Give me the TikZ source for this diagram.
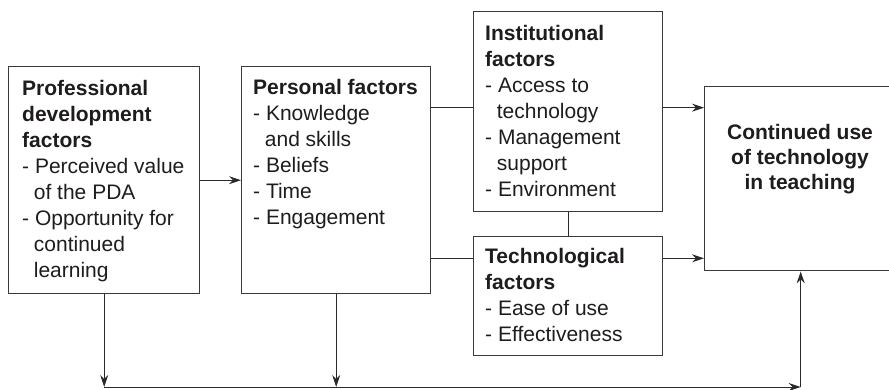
\documentclass[tikz,border=0pt]{standalone}
\usepackage{fontspec}
\setmainfont{Liberation Sans}
\usetikzlibrary{arrows.meta,calc}
\definecolor{linec}{HTML}{2A2A2A}
\definecolor{boxc}{HTML}{3A3A3A}
\definecolor{txtc}{HTML}{1E1C1D}
\begin{document}
\begin{tikzpicture}[x=1pt,y=-1pt,
  box/.style={draw=boxc, line width=1.4pt, inner sep=0pt, anchor=north west},
  txt/.style={anchor=north west, align=left, inner sep=0pt, text=txtc, font=\fontsize{21}{26}\selectfont},
  ln/.style={draw=linec, line width=1pt},
  arr/.style={draw=linec, line width=1pt, -{Stealth[length=12pt,width=8pt,inset=4pt]}}]
\useasboundingbox (0,0) rectangle (889,390);
\clip (0,0) rectangle (889,390);
% boxes
\node[box, minimum width=191pt, minimum height=227pt] (pd) at (8,66) {};
\node[box, minimum width=189pt, minimum height=227pt] (pers) at (241,66) {};
\node[box, minimum width=189pt, minimum height=200pt] (inst) at (473,11) {};
\node[box, minimum width=189pt, minimum height=119pt] (tech) at (473,236) {};
\node[box, minimum width=192pt, minimum height=184pt] (cont) at (704,86) {};
% texts
\node[txt] (pdt) at (22,80) {\textbf{Professional}\\\textbf{development}\\\textbf{factors}\\- Perceived value\\\hspace*{11.7pt}of the PDA\\- Opportunity for\\\hspace*{11.7pt}continued\\\hspace*{11.7pt}learning};
\node[txt] (perst) at (253,79) {\textbf{Personal factors}\\- Knowledge\\\hspace*{11.7pt}and skills\\- Beliefs\\- Time\\- Engagement};
\node[txt] (instt) at (485,25) {\textbf{Institutional}\\\textbf{factors}\\- Access to\\\hspace*{11.7pt}technology\\- Management\\\hspace*{11.7pt}support\\- Environment};
\node[txt] (techt) at (485,248) {\textbf{Technological}\\\textbf{factors}\\- Ease of use\\- Effectiveness};
\node[anchor=north, align=center, inner sep=0pt, text=txtc, font=\bfseries\fontsize{21}{25}\selectfont] (contt) at (800,124) {Continued use\\of technology\\in teaching};
% helper coordinates
\coordinate (i1) at ($(inst.north west)!0.48!(inst.south west)$);
\coordinate (t1) at ($(tech.north west)!0.185!(tech.south west)$);
\coordinate (yb) at (0,387);
\coordinate (bl) at (pd.south |- yb);
\coordinate (br) at (cont.south |- yb);
% connectors
\draw[arr] (pd.east) -- (pers.west);
\draw[ln] (pers.east |- i1) -- (i1);
\draw[ln] (pers.east |- t1) -- (t1);
\draw[ln] (inst.south) -- (tech.north);
\draw[arr] (inst.east |- i1) -- (cont.west |- i1);
\draw[arr] (tech.east |- t1) -- (cont.west |- t1);
\draw[arr] (pd.south) -- (bl);
\draw[arr] (pers.south) -- (pers.south |- yb);
\draw[ln] (bl) -- (pers.south |- yb);
\draw[arr] (pers.south |- yb) -- (br);
\draw[arr] (br) -- (cont.south);
\end{tikzpicture}
\end{document}
